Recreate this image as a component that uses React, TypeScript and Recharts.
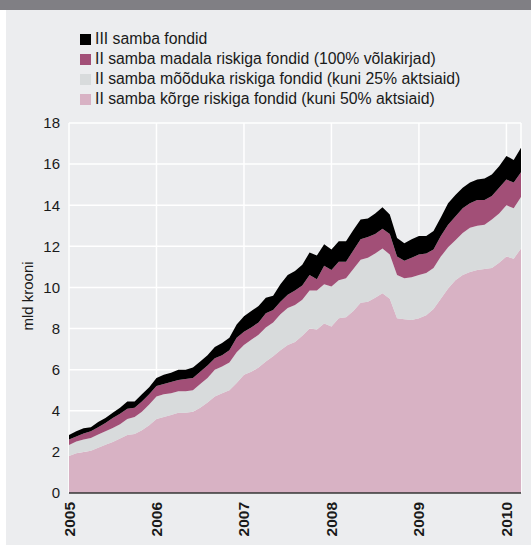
import { AreaChart, Area, XAxis, YAxis, CartesianGrid } from "recharts";

// month index 0 = Jan 2005 ... 62 = Mar 2010
const yearLabels = ["2005", "2006", "2007", "2008", "2009", "2010"];
const yTicks = [0, 2, 4, 6, 8, 10, 12, 14, 16, 18];

// II samba kõrge riskiga fondid (kuni 50% aktsiaid)
const highRisk = [
  1.8, 1.93, 2.0, 2.05, 2.2, 2.35, 2.48, 2.65, 2.82, 2.87, 3.05, 3.3,
  3.6, 3.7, 3.8, 3.9, 3.9, 3.95, 4.15, 4.4, 4.7, 4.85, 5.0, 5.35,
  5.75, 5.9, 6.1, 6.4, 6.65, 6.95, 7.2, 7.35, 7.65, 8.0, 7.95, 8.25,
  8.1, 8.5, 8.55, 8.85, 9.25, 9.3, 9.5, 9.72, 9.45, 8.5, 8.45, 8.42,
  8.5, 8.65, 8.95, 9.45, 9.95, 10.35, 10.6, 10.75, 10.85, 10.9, 10.95, 11.2,
  11.5, 11.4, 11.9,
];
// II samba mõõduka riskiga fondid (kuni 25% aktsiaid)
const mediumRisk = [
  0.53, 0.57, 0.6, 0.62, 0.65, 0.65, 0.68, 0.7, 0.78, 0.83, 0.9, 1.0,
  1.1, 1.1, 1.05, 1.05, 1.05, 1.05, 1.15, 1.2, 1.3, 1.3, 1.35, 1.5,
  1.45, 1.55, 1.6, 1.65, 1.65, 1.75, 1.8, 1.8, 1.75, 1.85, 1.9, 1.9,
  1.95, 1.85, 1.9, 2.05, 2.1, 2.15, 2.15, 2.18, 2.15, 2.1, 2.0, 2.08,
  2.1, 2.05, 2.0, 2.05, 2.0, 1.95, 2.05, 2.15, 2.15, 2.15, 2.35, 2.4,
  2.5, 2.45, 2.5,
];
// II samba madala riskiga fondid (100% võlakirjad)
const lowRisk = [
  0.27, 0.25, 0.3, 0.33, 0.35, 0.4, 0.49, 0.5, 0.5, 0.45, 0.5, 0.5,
  0.5, 0.5, 0.55, 0.55, 0.6, 0.6, 0.6, 0.6, 0.55, 0.55, 0.6, 0.7,
  0.65, 0.6, 0.6, 0.7, 0.6, 0.6, 0.65, 0.7, 0.7, 0.75, 0.55, 0.9,
  0.8, 0.9, 0.8, 0.9, 1.0, 1.0, 0.95, 0.95, 1.0, 0.9, 0.85, 0.95,
  1.0, 0.95, 0.9, 1.0, 1.1, 1.15, 1.2, 1.2, 1.25, 1.2, 1.15, 1.25,
  1.25, 1.25, 1.2,
];
// III samba fondid
const thirdPillar = [
  0.22, 0.25, 0.25, 0.2, 0.25, 0.25, 0.25, 0.3, 0.35, 0.3, 0.35, 0.35,
  0.4, 0.45, 0.45, 0.5, 0.45, 0.5, 0.5, 0.5, 0.55, 0.6, 0.6, 0.65,
  0.75, 0.8, 0.8, 0.75, 0.7, 0.85, 0.95, 0.95, 1.0, 1.1, 1.15, 1.05,
  1.0, 1.0, 1.0, 1.0, 0.95, 0.9, 1.0, 1.05, 0.95, 0.9, 0.85, 0.9,
  0.9, 0.85, 0.9, 0.9, 1.05, 1.05, 1.0, 1.0, 1.0, 1.05, 1.05, 1.05,
  1.15, 1.1, 1.2,
];

const series = [
  { key: "high", name: "II samba kõrge riskiga fondid (kuni 50% aktsiaid)", color: "#d8b2c4", values: highRisk },
  { key: "medium", name: "II samba mõõduka riskiga fondid (kuni 25% aktsiaid)", color: "#d8dbdc", values: mediumRisk },
  { key: "low", name: "II samba madala riskiga fondid (100% võlakirjad)", color: "#a24f77", values: lowRisk },
  { key: "third", name: "III samba fondid", color: "#000000", values: thirdPillar },
];

const data = highRisk.map((_, i) => {
  const row: Record<string, number> = { m: i };
  series.forEach(s => (row[s.key] = s.values[i]));
  return row;
});

const FONT = "'Liberation Sans', Arial, Helvetica, sans-serif";

function YearTick(props: any) {
  const { x, y, payload } = props;
  const label = yearLabels[Math.round(payload.value / 12)];
  return (
    <text
      transform={`translate(${x + 5.5},${y + 1}) rotate(-90)`}
      textAnchor="end"
      fontSize={15.5}
      fontWeight="bold"
      fontFamily={FONT}
      fill="#1a1a1a"
    >
      {label}
    </text>
  );
}

export default function App() {
  const legendRows = [...series].reverse();
  return (
    <div style={{ position: "fixed", left: 0, top: 0, width: 531, height: 547, background: "#fff", fontFamily: FONT }}>
      <div style={{ position: "absolute", left: 0, top: 0, width: 531, height: 10, background: "#807f84" }} />
      <div style={{ position: "absolute", left: 6, top: 10, width: 525, height: 535, background: "#ecedef" }} />
      <div style={{ position: "absolute", left: 80, top: 29 }}>
        {legendRows.map(s => (
          <div key={s.key} style={{ display: "flex", alignItems: "center", height: 20, fontSize: 15.8, color: "#1a1a1a", whiteSpace: "nowrap" }}>
            <span style={{ display: "inline-block", width: 11, height: 11, background: s.color, marginRight: 4 }} />
            {s.name}
          </div>
        ))}
      </div>
      <div style={{ position: "absolute", left: 0, top: 0 }}>
        <AreaChart width={531} height={547} data={data} margin={{ top: 123, right: 10, bottom: 0, left: 0 }}>
          <CartesianGrid stroke="#ffffff" strokeWidth={1.5} fill="none" />
          <XAxis
            dataKey="m"
            type="number"
            domain={[0, 62]}
            ticks={[0, 12, 24, 36, 48, 60]}
            height={54}
            tickSize={0}
            tickMargin={8}
            tickLine={false}
            axisLine={{ stroke: "#333", strokeWidth: 1.5 }}
            tick={<YearTick />}
          />
          <YAxis
            domain={[0, 18]}
            ticks={yTicks}
            width={69}
            tickSize={0}
            tickMargin={9}
            axisLine={false}
            tickLine={false}
            tick={{ fontSize: 15, fill: "#1a1a1a", fontFamily: FONT }}
            label={{
              content: () => (
                <text transform="translate(33,296) rotate(-90)" textAnchor="middle" fontSize={15} fontFamily={FONT} fill="#1a1a1a">
                  mld krooni
                </text>
              ),
            }}
          />
          {series.map(s => (
            <Area
              key={s.key}
              dataKey={s.key}
              name={s.name}
              stackId="a"
              type="linear"
              stroke="none"
              fill={s.color}
              fillOpacity={1}
              isAnimationActive={false}
            />
          ))}
        </AreaChart>
      </div>
    </div>
  );
}
